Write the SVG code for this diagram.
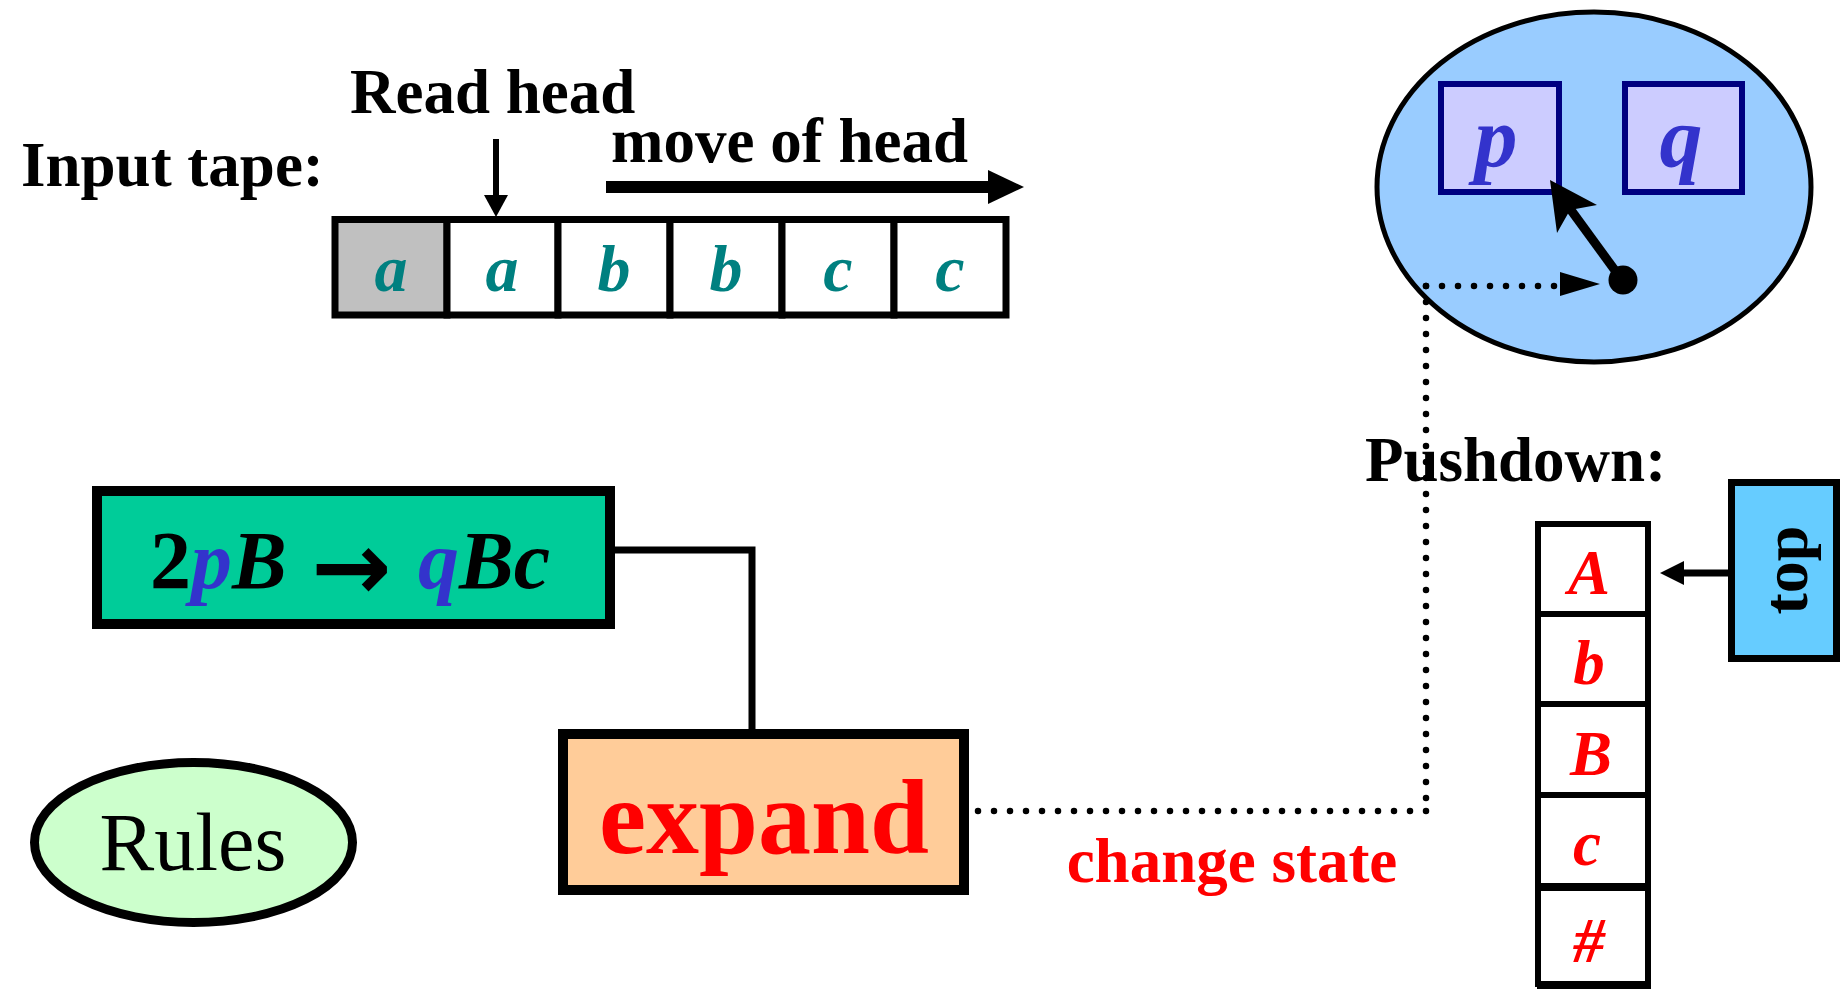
<svg xmlns="http://www.w3.org/2000/svg" width="1847" height="989" viewBox="0 0 1847 989">
<style>
text{font-family:"Liberation Serif","Times New Roman",serif;}
.lbl{font-weight:bold;font-size:63px;fill:#000;}
.tape{font-weight:bold;font-style:italic;font-size:66px;fill:#008080;text-anchor:middle;}
.stk{font-weight:bold;font-style:italic;font-size:63px;fill:#FF0000;text-anchor:middle;}
.cell{fill:#fff;stroke:#000;stroke-width:7;}
.scell{fill:#fff;stroke:#000;stroke-width:6;}
.st{fill:#CCCCFF;stroke:#000080;stroke-width:6;}
.stl{font-weight:bold;font-style:italic;font-size:86px;fill:#3333CC;text-anchor:middle;}
.dot{fill:none;stroke:#000;stroke-width:6.5;stroke-linecap:round;stroke-dasharray:0 16;}
</style>
<rect width="1847" height="989" fill="#fff"/>

<g id="labels">
<text class="lbl" x="21" y="186">Input tape:</text>
<text class="lbl" x="350" y="113">Read head</text>
<text class="lbl" x="611" y="162">move of head</text>
<text class="lbl" x="1365" y="481">Pushdown:</text>
<text x="1232" y="882" style="font-weight:bold;font-size:63px;fill:#FF0000;text-anchor:middle">change state</text>
</g>

<g id="tape">
<rect x="335" y="219.5" width="112" height="95.5" class="cell" style="fill:#C0C0C0"/>
<rect x="447" y="219.5" width="111" height="95.5" class="cell"/>
<rect x="558" y="219.5" width="112" height="95.5" class="cell"/>
<rect x="670" y="219.5" width="112" height="95.5" class="cell"/>
<rect x="782" y="219.5" width="112" height="95.5" class="cell"/>
<rect x="894" y="219.5" width="112" height="95.5" class="cell"/>
<text class="tape" x="391" y="291">a</text>
<text class="tape" x="502" y="291">a</text>
<text class="tape" x="614" y="291">b</text>
<text class="tape" x="726" y="291">b</text>
<text class="tape" x="838" y="291">c</text>
<text class="tape" x="950" y="291">c</text>
</g>

<g id="state">
<ellipse cx="1594" cy="187" rx="217" ry="175" fill="#99CCFF" stroke="#000" stroke-width="5"/>
<rect x="1441" y="84" width="118" height="108" class="st"/>
<rect x="1625" y="84" width="117" height="108" class="st"/>
<text class="stl" x="1496" y="166">p</text>
<text class="stl" x="1681" y="166">q</text>
<circle cx="1623" cy="280" r="14.5" fill="#000"/>
<line x1="1622" y1="280" x2="1568" y2="206" stroke="#000" stroke-width="9"/>
<polygon points="1550,180 1597,205 1570,210 1557,233" fill="#000"/>
</g>

<g id="rule">
<rect x="97" y="491" width="513" height="133" fill="#00CC99" stroke="#000" stroke-width="10"/>
<text x="150" y="588" style="font-size:82px;font-weight:bold;font-style:italic;fill:#000"><tspan font-style="normal">2</tspan><tspan fill="#3333CC">p</tspan><tspan>B</tspan><tspan x="311" dy="12" font-style="normal" style="font-family:'DejaVu Sans',sans-serif;font-size:96px">→</tspan><tspan x="418" dy="-12" fill="#3333CC">q</tspan><tspan>Bc</tspan></text>
</g>

<g id="expand">
<rect x="563" y="734" width="401" height="156" fill="#FFCC99" stroke="#000" stroke-width="10"/>
<text x="764" y="853" style="font-weight:bold;font-size:106px;fill:#FF0000;text-anchor:middle">expand</text>
</g>

<g id="rules">
<ellipse cx="193.5" cy="842.5" rx="159" ry="80" fill="#CCFFCC" stroke="#000" stroke-width="9"/>
<text x="193" y="870" style="font-size:82px;fill:#000;text-anchor:middle">Rules</text>
</g>

<g id="stack">
<rect x="1538" y="524" width="110" height="90" class="scell"/>
<rect x="1538" y="614" width="110" height="90" class="scell"/>
<rect x="1538" y="704" width="110" height="91" class="scell"/>
<rect x="1538" y="795" width="110" height="92" class="scell"/>
<rect x="1538" y="887" width="110" height="97" class="scell"/>
<line x1="1535" y1="887" x2="1651" y2="887" stroke="#000" stroke-width="8"/>
<line x1="1537" y1="985" x2="1651" y2="985" stroke="#000" stroke-width="8"/>
<text class="stk" x="1589" y="594">A</text>
<text class="stk" x="1589" y="684">b</text>
<text class="stk" x="1591" y="775">B</text>
<text class="stk" x="1587" y="865">c</text>
<text class="stk" x="1589" y="962">#</text>
</g>

<g id="top">
<rect x="1731.5" y="482.5" width="105" height="176" fill="#66CCFF" stroke="#000" stroke-width="7"/>
<text transform="translate(1807,570) rotate(-90)" x="0" y="0" style="font-weight:bold;font-size:64px;fill:#000;text-anchor:middle">top</text>
</g>

<g id="connectors">
<line x1="496" y1="139" x2="496" y2="199" stroke="#000" stroke-width="6"/>
<polygon points="484,195 508,195 496,217" fill="#000"/>
<line x1="606" y1="187" x2="992" y2="187" stroke="#000" stroke-width="12"/>
<polygon points="988,170 1024,187 988,204" fill="#000"/>
<polyline points="610,550 752,550 752,730" fill="none" stroke="#000" stroke-width="7"/>
<line x1="1728" y1="573" x2="1680" y2="573" stroke="#000" stroke-width="7"/>
<polygon points="1684,561 1660,573 1684,585" fill="#000"/>
<path class="dot" d="M1426 286 L1556 286"/>
<polygon points="1560,272 1600,284 1560,296" fill="#000"/>
<path class="dot" d="M1426 286 L1426 811"/>
<path class="dot" d="M1426 811 L975 811"/>
</g>
</svg>
